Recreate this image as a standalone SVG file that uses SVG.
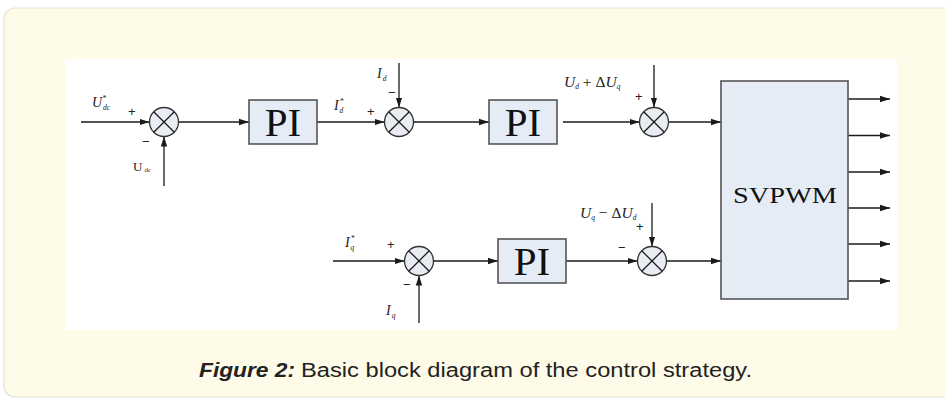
<svg xmlns="http://www.w3.org/2000/svg" width="945" height="398" viewBox="0 0 945 398">
<style>
.ln{stroke:#1a1a1a;stroke-width:1.3;fill:none}
.ar{marker-end:url(#ah)}
.sum{fill:#e9edf3;stroke:#333;stroke-width:1.3}
.blk{fill:#e6ecf6;stroke:#555;stroke-width:1.6}
.pi{font-family:"Liberation Serif",serif;font-size:41px;fill:#111;text-anchor:middle}
.lab{font-family:"Liberation Serif",serif;font-size:14px;font-style:italic;fill:#222}
.big{font-size:15.5px}
.sub{font-size:7.5px}
.sg{font-family:"Liberation Sans",sans-serif;font-size:13px;fill:#222}
.cap{font-family:"Liberation Sans",sans-serif;font-size:20px;fill:#222}
</style>
<defs>
<marker id="ah" markerUnits="userSpaceOnUse" markerWidth="11" markerHeight="8" refX="10" refY="4" orient="auto">
<path d="M0,0.8 L10,4 L0,7.2 z" fill="#1a1a1a"/>
</marker>
</defs>
<rect x="0" y="0" width="945" height="398" fill="#ffffff"/>
<rect x="4" y="8" width="960" height="389" rx="11" fill="#fefbe8" stroke="#e6e3d4" stroke-width="1.2"/>
<rect x="65" y="59" width="832" height="271" fill="#ffffff"/>

<g id="connectors">
<line class="ln ar" x1="81" y1="122" x2="149.5" y2="122"/>
<line class="ln ar" x1="164" y1="186" x2="164" y2="136.5"/>
<line class="ln ar" x1="178.5" y1="122" x2="249" y2="122"/>
<line class="ln ar" x1="317" y1="122" x2="384.5" y2="122"/>
<line class="ln ar" x1="399" y1="63" x2="399" y2="107.5"/>
<line class="ln ar" x1="413.5" y1="122" x2="489" y2="122"/>
<line class="ln ar" x1="563" y1="122" x2="639.5" y2="122"/>
<line class="ln ar" x1="654" y1="65" x2="654" y2="107.5"/>
<line class="ln ar" x1="668.5" y1="122" x2="721" y2="122"/>
<line class="ln ar" x1="333" y1="261" x2="404.5" y2="261"/>
<line class="ln ar" x1="419" y1="323" x2="419" y2="275.5"/>
<line class="ln ar" x1="433.5" y1="261" x2="498" y2="261"/>
<line class="ln ar" x1="566" y1="261" x2="637.5" y2="261"/>
<line class="ln ar" x1="652" y1="203" x2="652" y2="246.5"/>
<line class="ln ar" x1="666.5" y1="261" x2="721" y2="261"/>
<line class="ln ar" x1="848" y1="99" x2="890" y2="99"/>
<line class="ln ar" x1="848" y1="135.5" x2="890" y2="135.5"/>
<line class="ln ar" x1="848" y1="172" x2="890" y2="172"/>
<line class="ln ar" x1="848" y1="208" x2="890" y2="208"/>
<line class="ln ar" x1="848" y1="244" x2="890" y2="244"/>
<line class="ln ar" x1="848" y1="281" x2="890" y2="281"/>
</g>

<g id="sum1">
<circle class="sum" cx="164" cy="122" r="14.5"/>
<path class="ln" d="M153.7,111.7 L174.3,132.3 M174.3,111.7 L153.7,132.3"/>
</g>
<g id="sum2">
<circle class="sum" cx="399" cy="122" r="14.5"/>
<path class="ln" d="M388.7,111.7 L409.3,132.3 M409.3,111.7 L388.7,132.3"/>
</g>
<g id="sum3">
<circle class="sum" cx="654" cy="122" r="14.5"/>
<path class="ln" d="M643.7,111.7 L664.3,132.3 M664.3,111.7 L643.7,132.3"/>
</g>
<g id="sum4">
<circle class="sum" cx="419" cy="261" r="14.5"/>
<path class="ln" d="M408.7,250.7 L429.3,271.3 M429.3,250.7 L408.7,271.3"/>
</g>
<g id="sum5">
<circle class="sum" cx="652" cy="261" r="14.5"/>
<path class="ln" d="M641.7,250.7 L662.3,271.3 M662.3,250.7 L641.7,271.3"/>
</g>

<g id="pi1">
<rect class="blk" x="249" y="100" width="68" height="44"/>
<text class="pi" x="283" y="136">PI</text>
</g>
<g id="pi2">
<rect class="blk" x="489" y="100" width="68" height="44"/>
<text class="pi" x="523" y="136">PI</text>
</g>
<g id="pi3">
<rect class="blk" x="498" y="239" width="68" height="44"/>
<text class="pi" x="532" y="275">PI</text>
</g>
<g id="svpwm">
<rect class="blk" x="721" y="81" width="127" height="218"/>
<text x="733" y="203" font-family="Liberation Serif,serif" font-size="23" fill="#111" textLength="104" lengthAdjust="spacingAndGlyphs">SVPWM</text>
</g>

<g id="labels">
<text class="lab" x="92" y="107">U<tspan class="sub" dx="0" dy="-6">*</tspan><tspan class="sub" dx="-3" dy="9">dc</tspan></text>
<text class="sg" x="128" y="116">+</text>
<text class="sg" x="142" y="146">−</text>
<text x="133" y="171" font-family="Liberation Serif,serif" font-size="13" fill="#222">U<tspan font-size="7" dx="2" dy="1">dc</tspan></text>

<text class="lab" x="334" y="110">I<tspan class="sub" dx="1" dy="-6">*</tspan><tspan class="sub" dx="-4" dy="9">d</tspan></text>
<text class="sg" x="367" y="116">+</text>
<text class="lab" x="377" y="78">I<tspan class="sub" dx="1" dy="3">d</tspan></text>
<text class="sg" x="388" y="97">−</text>

<text class="lab big" x="564" y="87">U<tspan class="sub" dy="2">d</tspan><tspan dy="-2" font-style="normal"> + Δ</tspan>U<tspan class="sub" dy="2">q</tspan></text>
<text class="sg" x="635" y="101">+</text>

<text class="lab" x="345" y="247">I<tspan class="sub" dx="1" dy="-6">*</tspan><tspan class="sub" dx="-4" dy="9">q</tspan></text>
<text class="sg" x="387" y="249">+</text>
<text class="sg" x="403" y="289">−</text>
<text class="lab" x="386" y="315">I<tspan class="sub" dx="1" dy="3">q</tspan></text>

<text class="lab big" x="580" y="218">U<tspan class="sub" dy="2">q</tspan><tspan dy="-2" font-style="normal"> − Δ</tspan>U<tspan class="sub" dy="2">d</tspan></text>
<text class="sg" x="618" y="252">−</text>
<text class="sg" x="636" y="231">+</text>
</g>

<g id="caption">
<text class="cap" x="199" y="377" font-weight="bold" font-style="italic" textLength="96" lengthAdjust="spacingAndGlyphs">Figure 2:</text>
<text class="cap" x="301" y="377" textLength="451" lengthAdjust="spacingAndGlyphs">Basic block diagram of the control strategy.</text>
</g>
</svg>
